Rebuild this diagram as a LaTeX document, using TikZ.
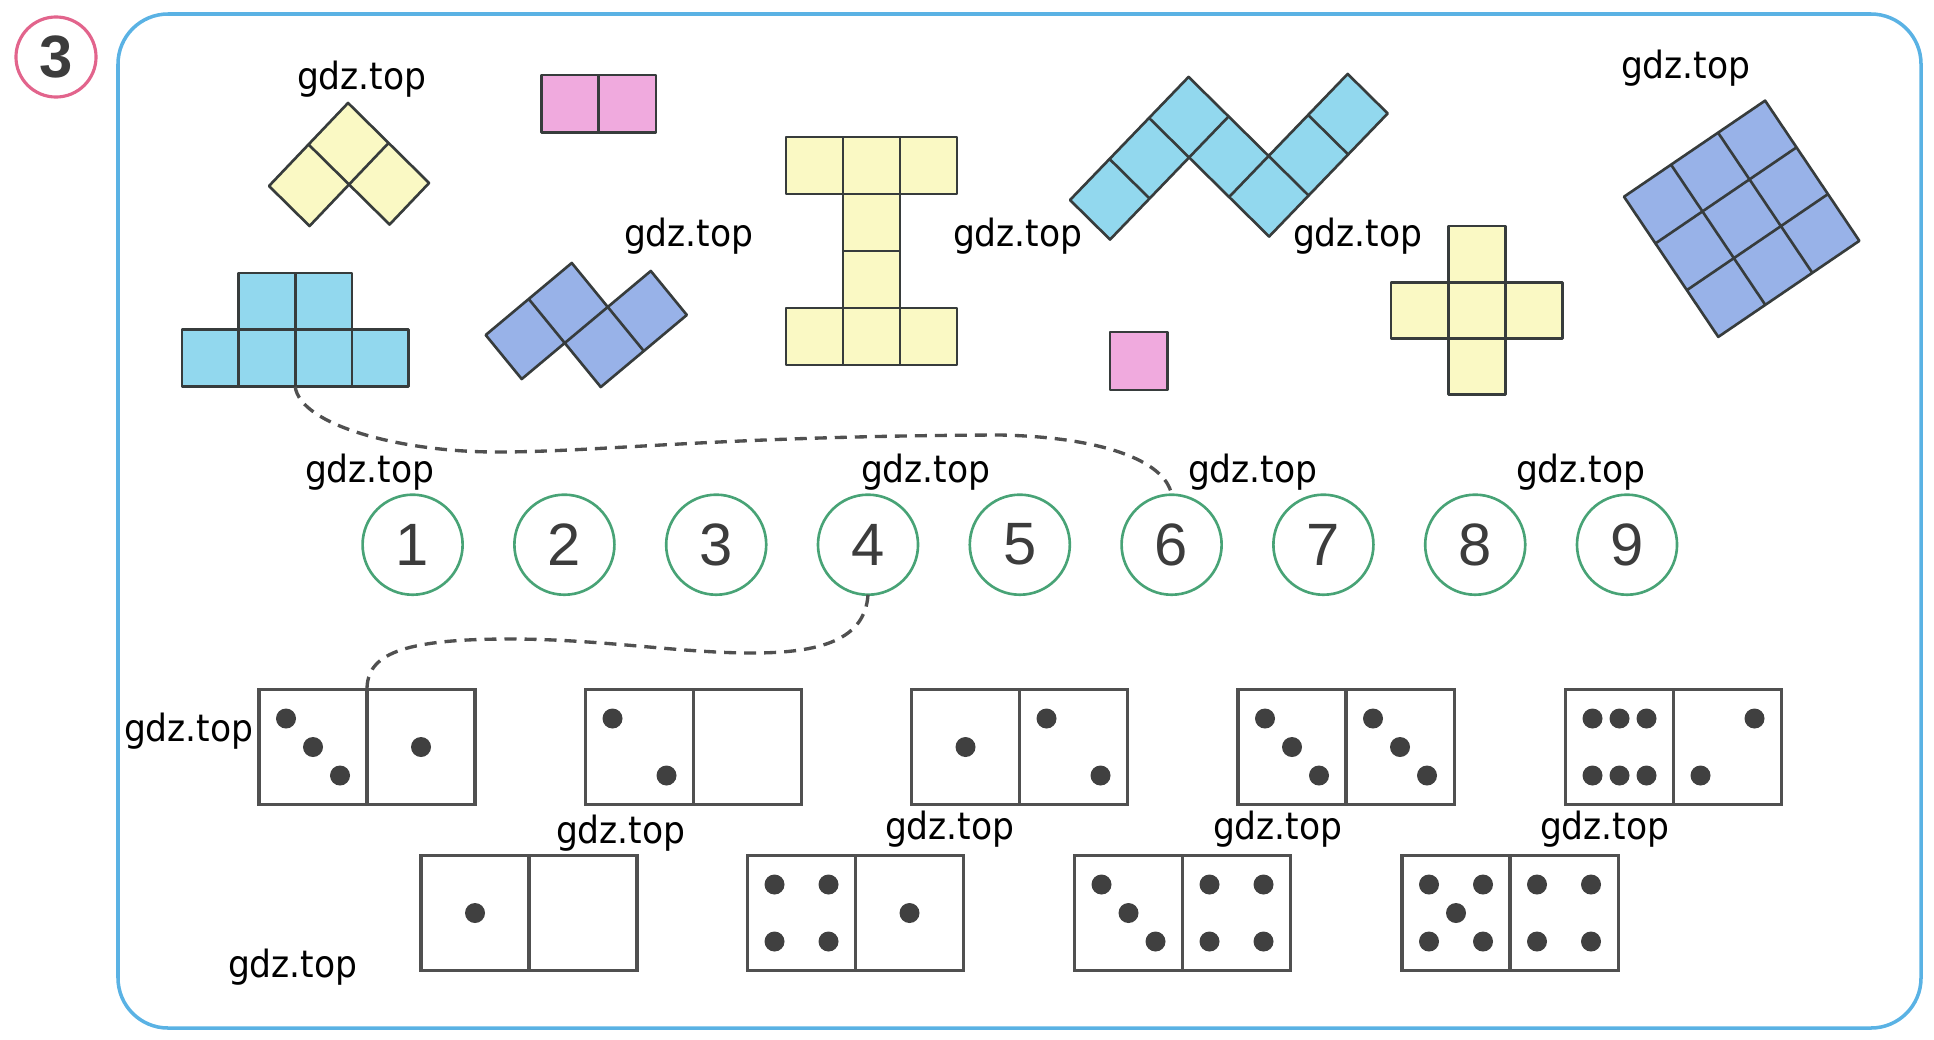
\documentclass[tikz,border=0pt]{standalone}
\usepackage{fontspec}
\newfontfamily\labfont[FakeStretch=0.92]{DejaVu Sans}
\newfontfamily\digfont{Liberation Sans}
\definecolor{cyanfill}{RGB}{146,216,238}
\definecolor{bluefill}{RGB}{152,178,232}
\definecolor{yellowfill}{RGB}{250,249,196}
\definecolor{pinkfill}{RGB}{240,170,222}
\definecolor{cellc}{RGB}{55,60,60}
\definecolor{framec}{RGB}{90,178,228}
\definecolor{pinkc}{RGB}{226,100,140}
\definecolor{greenc}{RGB}{72,163,118}
\definecolor{digc}{RGB}{60,60,60}
\definecolor{domc}{RGB}{80,80,80}
\definecolor{pipc}{RGB}{64,64,64}
\definecolor{dashc}{RGB}{80,80,80}
\tikzset{
  cellline/.style={draw=cellc, line width=0.75pt, line join=round},
  numcirc/.style={circle, draw=greenc, line width=0.75pt, minimum size=1.0cm, inner sep=0pt, outer sep=0pt,
    font=\digfont\fontsize{17pt}{20pt}\selectfont, text=digc},
  dombox/.style={rectangle, draw=domc, line width=0.9pt, minimum width=2.16cm, minimum height=1.15cm,
    inner sep=0pt, outer sep=0pt},
  domline/.style={draw=domc, line width=0.9pt},
  lab/.style={anchor=base west, inner sep=0pt, outer sep=0pt, font=\labfont\fontsize{10.67pt}{13pt}\selectfont, text=black},
  conn/.style={draw=dashc, line width=0.95pt, dash pattern=on 0.12cm off 0.08cm}
}
\newcommand\cells[2]{\filldraw[cellline, fill=#1] \foreach \ci/\cj in {#2} {(\ci,\cj) -- ++(1,0) -- ++(0,1) -- ++(-1,0) -- cycle};}
\newcommand\pipsat[3]{\foreach \pc/\pr in {#3}{\fill[pipc] ({#1+27+27*\pc},{#2+29+28.5*\pr}) circle[radius=0.1cm];}}
\newcommand\dom[3]{\node[dombox] (#1) at ({#2+108},{#3+57.5}) {}; \draw[domline] (#1.north) -- (#1.south);}
\begin{document}
\begin{tikzpicture}[x=0.01cm, y=-0.01cm]
\useasboundingbox (0,0) rectangle (1934,1039);
% frame and exercise number
\draw[framec, line width=1pt, rounded corners=0.5cm] (118,14) rectangle (1921,1028);
\node[circle, draw=pinkc, line width=0.9pt, minimum size=0.8cm, inner sep=0pt,
  font=\digfont\bfseries\fontsize{17pt}{19pt}\selectfont, text=digc] (n3) at (56,57) {3};

% yellow V (rotated)
\begin{scope}[shift={(269,186)}, x={(0.395cm,0.415cm)}, y={(0.405cm,-0.40cm)}]
  \cells{yellowfill}{0/0,1/0,1/1}
\end{scope}
% cyan pentomino-like
\begin{scope}[shift={(182,273)}, x=0.566cm, y=-0.566cm]
  \cells{cyanfill}{1/0,2/0,0/1,1/1,2/1,3/1}
\end{scope}
\coordinate (cyanb) at (295.2,386.6);
% pink domino
\begin{scope}[shift={(541.5,75)}, x=0.5725cm, y=-0.577cm]
  \cells{pinkfill}{0/0,1/0}
\end{scope}
% blue S (rotated)
\begin{scope}[shift={(485.7,335)}, x={(0.43cm,0.36cm)}, y={(0.36cm,-0.44cm)}]
  \cells{bluefill}{0/0,1/0,1/1,2/1}
\end{scope}
% yellow I
\begin{scope}[shift={(786,137)}, x=0.57cm, y=-0.57cm]
  \cells{yellowfill}{0/0,1/0,2/0,1/1,1/2,0/3,1/3,2/3}
\end{scope}
% cyan W (rotated)
\begin{scope}[shift={(1070,200)}, x={(0.395cm,0.41cm)}, y={(0.40cm,-0.395cm)}]
  \cells{cyanfill}{0/0,1/0,2/0,2/1,2/2,3/2,4/2}
\end{scope}
% pink single square
\begin{scope}[shift={(1110,332)}, x=0.575cm, y=-0.58cm]
  \cells{pinkfill}{0/0}
\end{scope}
% yellow plus
\begin{scope}[shift={(1391,226)}, x=0.572cm, y=-0.562cm]
  \cells{yellowfill}{1/0,0/1,1/1,2/1,1/2}
\end{scope}
% blue 3x3 (rotated)
\begin{scope}[shift={(1624,196.7)}, x={(0.47cm,0.32cm)}, y={(0.314cm,-0.467cm)}]
  \cells{bluefill}{0/0,1/0,2/0,0/1,1/1,2/1,0/2,1/2,2/2}
\end{scope}

% number circles
\foreach \k in {1,...,9}{\node[numcirc] (c\k) at ({412.6+151.8*(\k-1)},544.7) {\k};}

% dominoes row 1
\dom{d1}{259}{689.5}
\pipsat{259}{689.5}{0/0,1/1,2/2}
\pipsat{367}{689.5}{1/1}
\dom{d2}{585.5}{689.5}
\pipsat{585.5}{689.5}{0/0,2/2}
\dom{d3}{911.5}{689.5}
\pipsat{911.5}{689.5}{1/1}
\pipsat{1019.5}{689.5}{0/0,2/2}
\dom{d4}{1238}{689.5}
\pipsat{1238}{689.5}{0/0,1/1,2/2}
\pipsat{1346}{689.5}{0/0,1/1,2/2}
\dom{d5}{1565.5}{689.5}
\pipsat{1565.5}{689.5}{0/0,1/0,2/0,0/2,1/2,2/2}
\pipsat{1673.5}{689.5}{2/0,0/2}
% dominoes row 2
\dom{e1}{421}{855.5}
\pipsat{421}{855.5}{1/1}
\dom{e2}{747.5}{855.5}
\pipsat{747.5}{855.5}{0/0,2/0,0/2,2/2}
\pipsat{855.5}{855.5}{1/1}
\dom{e3}{1074.5}{855.5}
\pipsat{1074.5}{855.5}{0/0,1/1,2/2}
\pipsat{1182.5}{855.5}{0/0,2/0,0/2,2/2}
\dom{e4}{1402}{855.5}
\pipsat{1402}{855.5}{0/0,2/0,1/1,0/2,2/2}
\pipsat{1510}{855.5}{0/0,2/0,0/2,2/2}

% dashed connectors
\draw[conn] (cyanb) .. controls (300,425) and (400,452) .. (497,452)
  .. controls (600,452) and (720,436) .. (1000,435)
  .. controls (1100,437) and (1165,460) .. (c6.north);
\draw[conn] (c4.south) .. controls (865,640) and (820,653) .. (752,653)
  .. controls (680,653) and (600,639) .. (510,639)
  .. controls (400,639) and (367,655) .. (d1.north);

% labels
\node[lab] (g1) at (297,89.5) {gdz.top};
\node[lab] (g2) at (624,246) {gdz.top};
\node[lab] (g3) at (953,246) {gdz.top};
\node[lab] (g4) at (1293,246) {gdz.top};
\node[lab] (g5) at (1621,78.5) {gdz.top};
\node[lab] (g6) at (305,482.5) {gdz.top};
\node[lab] (g7) at (861,482.5) {gdz.top};
\node[lab] (g8) at (1188,482.5) {gdz.top};
\node[lab] (g9) at (1516,482.5) {gdz.top};
\node[lab] (g10) at (124,741) {gdz.top};
\node[lab] (g11) at (556,843) {gdz.top};
\node[lab] (g12) at (885,839) {gdz.top};
\node[lab] (g13) at (1213,839) {gdz.top};
\node[lab] (g14) at (1540,839) {gdz.top};
\node[lab] (g15) at (228,977) {gdz.top};
\end{tikzpicture}
\end{document}
